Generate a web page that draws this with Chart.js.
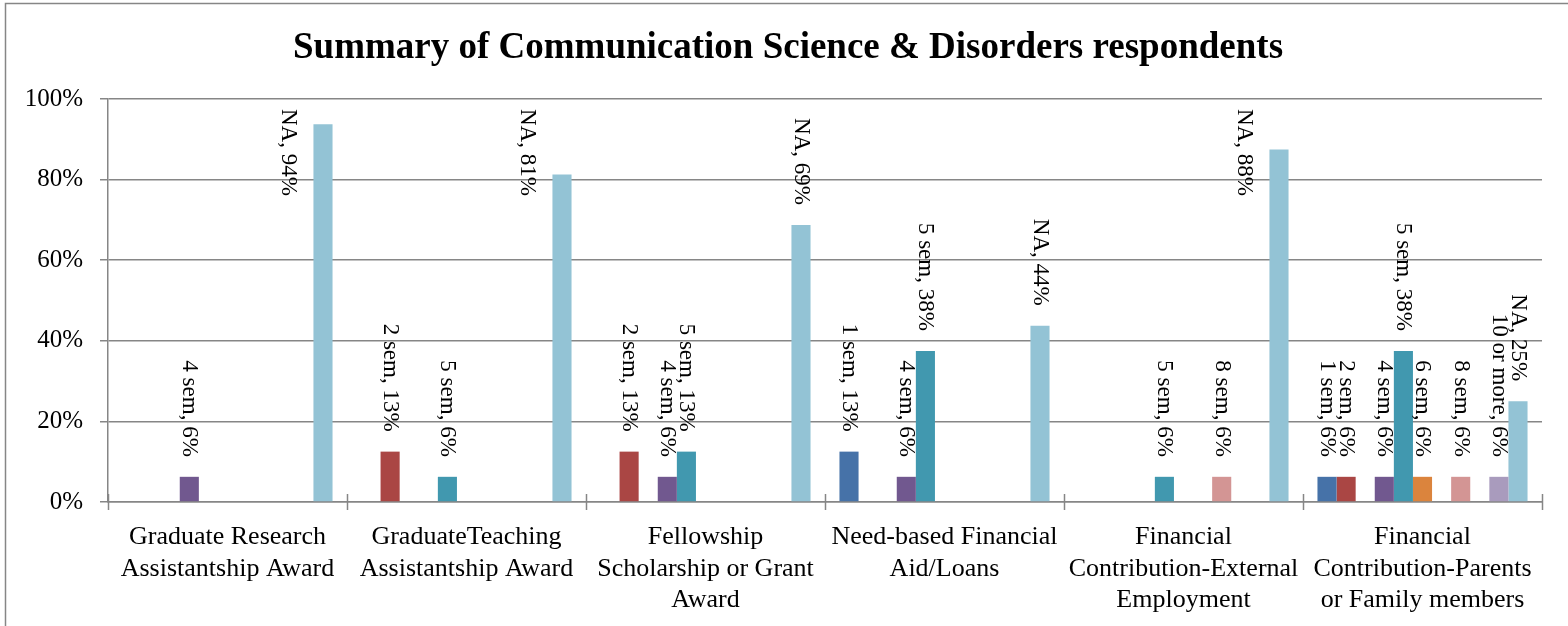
<!DOCTYPE html>
<html>
<head>
<meta charset="utf-8">
<script src="https://cdn.jsdelivr.net/npm/chart.js@4.4.0/dist/chart.umd.min.js"></script>
<style>
  html, body { margin: 0; padding: 0; background: #fff; }
  #wrap { width: 1568px; height: 626px; }
</style>
</head>
<body>
<div id="wrap"><canvas id="summaryChart"></canvas></div>
<script>
const chartTitle = 'Summary of Communication Science & Disorders respondents';

const categories = [
    ['Graduate Research', 'Assistantship Award'],
    ['GraduateTeaching', 'Assistantship Award'],
    ['Fellowship', 'Scholarship or Grant', 'Award'],
    ['Need-based Financial', 'Aid/Loans'],
    ['Financial', 'Contribution-External', 'Employment'],
    ['Financial', 'Contribution-Parents', 'or Family members']
];

const seriesNames = ['1 sem', '2 sem', '3 sem', '4 sem', '5 sem', '6 sem', '7 sem', '8 sem', '9 sem', '10 or more', 'NA'];

// share of respondents (%), null = nobody in that group
const sem1 = [null, null, null, 12.5, null, 6.25];
const sem2 = [null, 12.5, 12.5, null, null, 6.25];
const sem3 = [null, null, null, null, null, null];
const sem4 = [6.25, null, 6.25, 6.25, null, 6.25];
const sem5 = [null, 6.25, 12.5, 37.5, 6.25, 37.5];
const sem6 = [null, null, null, null, null, 6.25];
const sem7 = [null, null, null, null, null, null];
const sem8 = [null, null, null, null, 6.25, 6.25];
const sem9 = [null, null, null, null, null, null];
const sem10plus = [null, null, null, null, null, 6.25];
const notApplicable = [93.75, 81.25, 68.75, 43.75, 87.5, 25];

const yTicks = [0, 20, 40, 60, 80, 100];

const seriesValues = [sem1, sem2, sem3, sem4, sem5, sem6, sem7, sem8, sem9, sem10plus, notApplicable];
const seriesColors = ['#4672A8', '#AA4644', '#89A54E', '#71588F', '#4198AF', '#DB843D',
                      '#93A9CF', '#D39594', '#B9CD96', '#A99BBD', '#93C3D5'];

const serif = '"Liberation Serif", "Times New Roman", serif';
const lineGrey = '#868686';

// outer frame + title (drawn by hand so it sits where Excel put it)
const frameAndTitle = {
    id: 'frameAndTitle',
    beforeDraw(chart) {
        const ctx = chart.ctx;
        ctx.save();
        ctx.fillStyle = '#fff';
        ctx.fillRect(0, 0, chart.width, chart.height);
        ctx.strokeStyle = lineGrey;
        ctx.lineWidth = 1.5;
        ctx.strokeRect(5.5, 3.5, chart.width + 20, chart.height + 20);
        ctx.fillStyle = '#000';
        ctx.font = 'bold 37px ' + serif;
        ctx.textAlign = 'center';
        ctx.textBaseline = 'alphabetic';
        ctx.fillText(chartTitle, 788, 58);
        ctx.restore();
    }
};

// little tick marks crossing the x axis between categories
const categoryTicks = {
    id: 'categoryTicks',
    afterDraw(chart) {
        const ctx = chart.ctx;
        const area = chart.chartArea;
        const step = (area.right - area.left) / categories.length;
        ctx.save();
        ctx.strokeStyle = lineGrey;
        ctx.lineWidth = 1.5;
        for (let i = 0; i <= categories.length; i++) {
            const x = Math.round(area.left + i * step) + 0.5;
            ctx.beginPath();
            ctx.moveTo(x, area.bottom - 8);
            ctx.lineTo(x, area.bottom + 8);
            ctx.stroke();
        }
        ctx.restore();
    }
};

// vertical "series, value%" labels above each bar
const barLabels = {
    id: 'barLabels',
    afterDatasetsDraw(chart) {
        const ctx = chart.ctx;
        const area = chart.chartArea;
        ctx.save();
        ctx.font = '23px ' + serif;
        ctx.fillStyle = '#000';
        ctx.textAlign = 'left';
        ctx.textBaseline = 'middle';
        chart.data.datasets.forEach((ds, di) => {
            const meta = chart.getDatasetMeta(di);
            meta.data.forEach((bar, i) => {
                const v = ds.data[i];
                if (v == null) return;
                const text = `${ds.label}, ${Math.round(v)}%`;
                const w = ctx.measureText(text).width;
                let x = bar.x;
                let y = bar.y - 20 - w;
                if (y < area.top) {
                    // no room above the bar: Excel left it beside the bar
                    x -= 35;
                    y = area.top + 10;
                }
                ctx.save();
                ctx.translate(x, y);
                ctx.rotate(Math.PI / 2);
                ctx.fillText(text, 0, 0);
                ctx.restore();
            });
        });
        ctx.restore();
    }
};

const ctx = document.getElementById('summaryChart').getContext('2d');

new Chart(ctx, {
    type: 'bar',
    data: {
        labels: categories,
        datasets: seriesNames.map((name, i) => ({
            label: name,
            data: seriesValues[i],
            backgroundColor: seriesColors[i],
            borderWidth: 0,
            categoryPercentage: 0.879,
            barPercentage: 1.0
        }))
    },
    options: {
        responsive: true,
        maintainAspectRatio: false,
        animation: false,
        layout: { padding: { top: 99, right: 26, bottom: 0, left: 0 } },
        plugins: {
            legend: { display: false },
            title: { display: false },
            tooltip: { enabled: false }
        },
        scales: {
            x: {
                grid: { display: false },
                border: { display: true, color: lineGrey, width: 1.5 },
                ticks: {
                    color: '#000',
                    font: { family: serif, size: 26, lineHeight: 1.2 },
                    padding: 12,
                    maxRotation: 0,
                    autoSkip: false
                },
                afterFit(scale) { scale.height = 124; }
            },
            y: {
                min: 0,
                max: 100,
                afterBuildTicks(scale) { scale.ticks = yTicks.map(v => ({ value: v })); },
                grid: { color: lineGrey, lineWidth: 1.5, tickLength: 8 },
                border: { display: true, color: lineGrey, width: 1.5 },
                ticks: {
                    color: '#000',
                    font: { family: serif, size: 25 },
                    padding: 17,
                    callback: v => v + '%'
                },
                afterFit(scale) { scale.width = 108; }
            }
        }
    },
    plugins: [frameAndTitle, categoryTicks, barLabels]
});
</script>
</body>
</html>
